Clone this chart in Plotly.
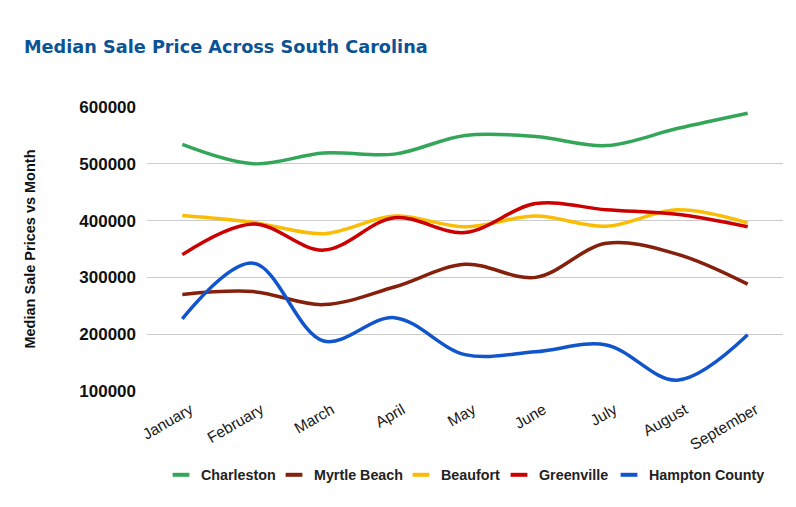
import plotly.graph_objects as go

months = ["January", "February", "March", "April", "May", "June", "July", "August", "September"]
charleston = [534000, 500000, 519000, 517000, 550000, 548000, 532000, 562000, 589000]
myrtle_beach = [270000, 275000, 252000, 283000, 323000, 300000, 360000, 341000, 288000]
beaufort = [409000, 397000, 377000, 408000, 389000, 408000, 390000, 419000, 396000]
greenville = [340000, 394000, 348000, 405000, 379000, 430000, 419000, 411000, 389000]
hampton_county = [227000, 325000, 188000, 229000, 164000, 169000, 181000, 119000, 199000]

series = [
    ("Charleston", charleston, "#33a65a"),
    ("Myrtle Beach", myrtle_beach, "#85200c"),
    ("Beaufort", beaufort, "#fbbc04"),
    ("Greenville", greenville, "#cc0000"),
    ("Hampton County", hampton_county, "#1155cc"),
]
# left edge of each legend entry's text (px)
legend_text_x = [200, 313, 440, 538, 648]

W, H = 796, 507
fig = go.Figure()
for name, vals, color in series:
    fig.add_trace(go.Scatter(
        x=months, y=vals, mode="lines", name=name, showlegend=False,
        line=dict(color=color, width=3.5, shape="spline", smoothing=1.0),
    ))

legend_font = dict(family="Liberation Sans", size=14.3, color="#222222", weight="bold")
layout_legends = {}
for i, ((name, vals, color), tx) in enumerate(zip(series, legend_text_x)):
    key = "legend" if i == 0 else f"legend{i + 1}"
    fig.add_trace(go.Scatter(
        x=[None], y=[None], mode="markers", name=name, showlegend=True, legend=key,
        marker=dict(symbol="line-ew", size=12, color=color, line=dict(color=color, width=4)),
    ))
    layout_legends[key] = dict(
        orientation="h", x=(tx - 39) / W, xanchor="left", xref="container",
        y=1 - 475 / H, yref="container", yanchor="middle",
        font=legend_font, itemwidth=30, bgcolor="rgba(0,0,0,0)",
    )

fig.update_layout(
    width=W, height=H,
    paper_bgcolor="white", plot_bgcolor="white",
    margin=dict(l=147, r=13, t=107, b=116, autoexpand=False),
    title=dict(
        text="<b>Median Sale Price Across South Carolina</b>",
        font=dict(family="DejaVu Sans", size=17.7, color="#0b5394"),
        x=24 / W, xref="container", xanchor="left",
        y=1 - 47 / H, yref="container", yanchor="middle",
    ),
    xaxis=dict(
        type="category", range=[-0.5, 8.5], showgrid=False, zeroline=False,
        tickangle=-30, tickfont=dict(family="Liberation Sans", size=15.5, color="#1a1a1a"),
        ticks="", showline=False, ticklabelshift=8, ticklabelstandoff=6,
    ),
    yaxis=dict(
        range=[99900, 600000], tickvals=[100000, 200000, 300000, 400000, 500000, 600000],
        showgrid=True, gridcolor="#cccccc", gridwidth=1,
        zeroline=False, showline=False, ticks="", ticklabelstandoff=10,
        tickformat="d",
        tickfont=dict(family="Liberation Sans", size=17, color="#111111", weight="bold"),
        title=dict(text="<b>Median Sale Prices vs Month</b>", standoff=40,
                   font=dict(family="Liberation Sans", size=14.5, color="#111111")),
    ),
    **layout_legends,
)

fig.write_html("out.html", config={"displayModeBar": False},
               post_script="document.body.style.margin='0px';")
